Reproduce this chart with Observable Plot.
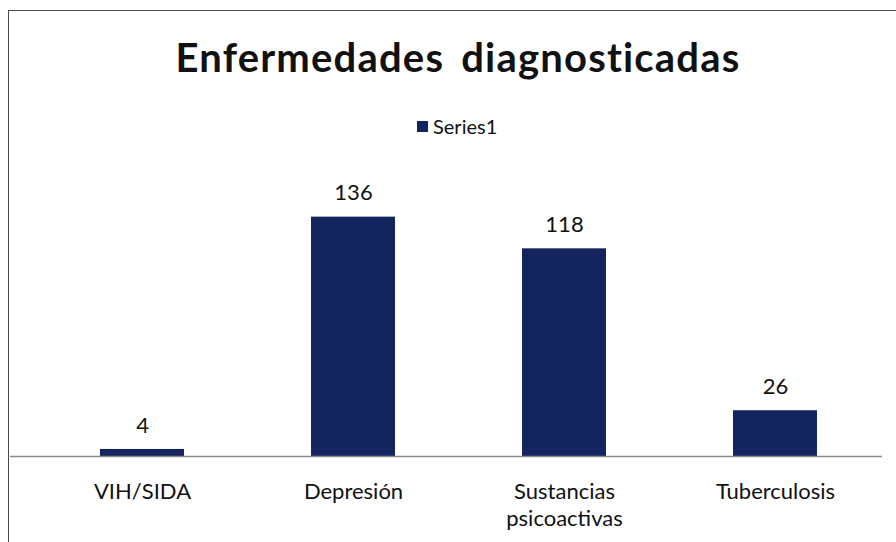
<!DOCTYPE html>
<html>
<head>
<meta charset="utf-8">
<script src="https://cdn.jsdelivr.net/npm/d3@7"></script>
<script src="https://cdn.jsdelivr.net/npm/@observablehq/plot@0.6"></script>
<style>
  html, body { margin: 0; padding: 0; background: #fff; }
  #wrap { position: relative; width: 896px; height: 542px; overflow: hidden; font-family: Lato, "Open Sans", sans-serif; }
  #frame { position: absolute; left: 8px; top: 10px; width: 900px; height: 600px; border-left: 1.5px solid #4a4a4a; border-top: 1.5px solid #4a4a4a; }
  #title { position: absolute; left: 0; width: 916px; top: 33px; text-align: center; font-size: 40px; font-weight: bold; color: #111; letter-spacing: 1.2px; word-spacing: 6px; }
  #legend { position: absolute; left: 417px; top: 114px; font-size: 20px; color: #111; display: flex; align-items: center; }
  #legend span.sw { display: inline-block; width: 11px; height: 11px; background: #14245f; margin-right: 5px; }
  #chart { position: absolute; left: 0; top: 150px; }
</style>
</head>
<body>
<div id="wrap">
  <div id="frame"></div>
  <div id="title">Enfermedades diagnosticadas</div>
  <div id="legend"><span class="sw"></span><span>Series1</span></div>
  <div id="chart"></div>
</div>
<script>
const categories = ["VIH/SIDA", "Depresión", "Sustancias\npsicoactivas", "Tuberculosis"];
const values = [4, 136, 118, 26];
const seriesName = "Series1";

const data = categories.map((c, i) => ({category: c, value: values[i], series: seriesName}));
const barColor = "#14245f";

const chart = Plot.plot({
  width: 896,
  height: 392,
  marginTop: 42,
  marginBottom: 86,
  marginLeft: 10,
  marginRight: 14,
  style: {fontFamily: "Lato, 'Open Sans', sans-serif", background: "transparent"},
  x: {domain: categories, range: [35, 882], paddingInner: 0.6, paddingOuter: 0.3, label: null},
  y: {domain: [0, 150], axis: null},
  marks: [
    Plot.barY(data, {x: "category", y: "value", fill: barColor}),
    Plot.ruleY([0], {stroke: "#8a8a8a", strokeWidth: 1.5}),
    Plot.text(data, {x: "category", y: "value", text: d => String(d.value), dy: -24, fontSize: 22, fill: "#111"}),
    Plot.axisX({tickSize: 0, tickPadding: 23, fontSize: 22, color: "#111", label: null, lineHeight: 1.23})
  ]
});
document.getElementById("chart").appendChild(chart);
</script>
</body>
</html>
